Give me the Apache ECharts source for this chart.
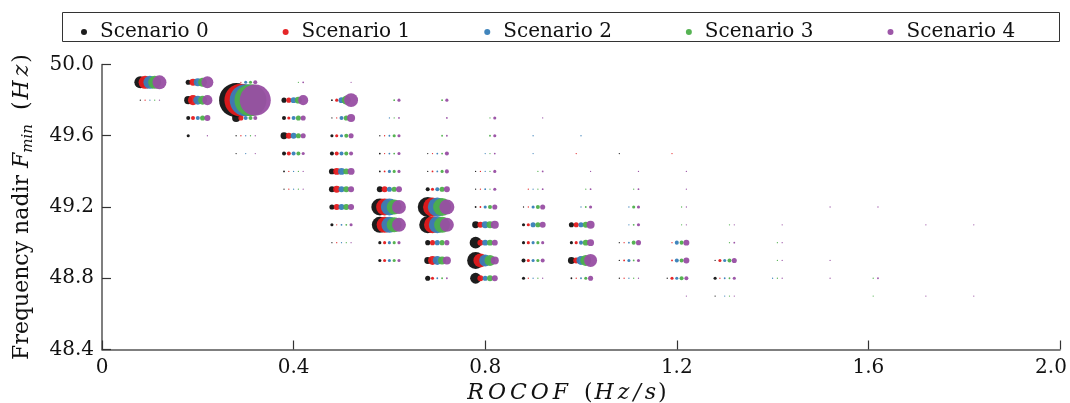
<!DOCTYPE html>
<html>
<head>
<meta charset="utf-8">
<script src="https://cdn.jsdelivr.net/npm/echarts@6/dist/echarts.min.js"></script>
<style>
  html, body { margin: 0; padding: 0; background: #fff; }
  #chart { width: 1070px; height: 403px; }
</style>
</head>
<body>
<div id="chart"></div>
<script>
// Scenario names (legend order = drawing order, last on top)
const scenarioNames = ["Scenario 0", "Scenario 1", "Scenario 2", "Scenario 3", "Scenario 4"];
const scenarioColors = ["#111111", "#e41a1c", "#377eb8", "#4daf4a", "#984ea3"];

// each row: [ROCOF (Hz/s), nadir (Hz), count scenario 0..4]
const cells = [
  [0.1, 49.9, 44, 52, 52, 52, 60],
  [0.2, 49.9, 8, 15, 20, 25, 44],
  [0.3, 49.9, 0, 0.5, 3, 3, 5],
  [0.4, 49.9, 0, 0, 0, 0.5, 1],
  [0.5, 49.9, 0, 0, 0, 0, 0.5],
  [0.1, 49.8, 0.5, 0.5, 0.5, 0.5, 0.5],
  [0.2, 49.8, 20, 31, 25, 25, 31],
  [0.3, 49.8, 357, 336, 316, 316, 297],
  [0.4, 49.8, 8, 8, 11, 15, 31],
  [0.5, 49.8, 1, 3, 11, 25, 60],
  [0.6, 49.8, 0, 0, 0, 1, 3],
  [0.7, 49.8, 0, 0, 0, 1, 3],
  [0.2, 49.7, 5, 5, 5, 8, 11],
  [0.3, 49.7, 20, 8, 5, 5, 5],
  [0.4, 49.7, 5, 3, 5, 8, 8],
  [0.5, 49.7, 0.5, 0.5, 5, 8, 20],
  [0.6, 49.7, 0, 0, 0.5, 0.5, 1],
  [0.7, 49.7, 0, 0, 0, 0, 1],
  [0.8, 49.7, 0, 0, 0, 0.5, 3],
  [0.9, 49.7, 0, 0, 0, 0, 0.5],
  [0.2, 49.6, 3, 0, 0, 0, 0.5],
  [0.3, 49.6, 0.5, 0.5, 0.5, 0.5, 0.5],
  [0.4, 49.6, 15, 11, 11, 8, 8],
  [0.5, 49.6, 3, 3, 3, 5, 8],
  [0.6, 49.6, 0.5, 0.5, 1, 3, 3],
  [0.7, 49.6, 0, 0, 0, 1, 1],
  [0.8, 49.6, 0, 0, 0, 1, 3],
  [0.9, 49.6, 0, 0, 0.5, 0, 0],
  [1.0, 49.6, 0, 0, 0.5, 0, 0],
  [0.3, 49.5, 0.5, 0, 0.5, 0, 0.5],
  [0.4, 49.5, 5, 5, 5, 5, 3],
  [0.5, 49.5, 5, 5, 5, 5, 5],
  [0.6, 49.5, 1, 0.5, 1, 1, 3],
  [0.7, 49.5, 0.5, 0.5, 1, 1, 5],
  [0.8, 49.5, 0, 0, 0.5, 0.5, 1],
  [0.9, 49.5, 0, 0, 0.5, 0, 0],
  [1.0, 49.5, 0, 0.5, 0, 0, 0],
  [1.1, 49.5, 0.5, 0, 0, 0, 0],
  [1.2, 49.5, 0, 0.5, 0, 0, 0],
  [0.4, 49.4, 1, 0.5, 0.5, 0.5, 0.5],
  [0.5, 49.4, 11, 15, 15, 11, 15],
  [0.6, 49.4, 1, 1, 3, 3, 3],
  [0.7, 49.4, 0.5, 1, 1, 3, 5],
  [0.8, 49.4, 0.5, 0.5, 0.5, 0.5, 3],
  [0.9, 49.4, 0, 0, 0, 0.5, 1],
  [1.0, 49.4, 0, 0, 0, 0, 0.5],
  [1.1, 49.4, 0, 0, 0, 0, 0.5],
  [1.2, 49.4, 0, 0, 0, 0, 0.5],
  [0.4, 49.3, 0.5, 0.5, 0.5, 0.5, 0.5],
  [0.5, 49.3, 11, 15, 11, 11, 11],
  [0.6, 49.3, 11, 11, 8, 8, 11],
  [0.7, 49.3, 5, 3, 5, 8, 11],
  [0.8, 49.3, 0.5, 0.5, 1, 0.5, 3],
  [0.9, 49.3, 0, 0.5, 0.5, 0.5, 1],
  [1.0, 49.3, 0, 0, 0, 0.5, 1],
  [1.1, 49.3, 0, 0, 0, 0.5, 1],
  [1.2, 49.3, 0, 0, 0, 0, 0.5],
  [0.5, 49.2, 8, 11, 11, 11, 11],
  [0.6, 49.2, 89, 89, 89, 69, 60],
  [0.7, 49.2, 123, 111, 111, 100, 69],
  [0.8, 49.2, 1, 1, 3, 5, 8],
  [0.9, 49.2, 0.5, 0.5, 3, 5, 8],
  [1.0, 49.2, 0, 0, 0.5, 1, 3],
  [1.1, 49.2, 0, 0, 0.5, 3, 3],
  [1.2, 49.2, 0, 0, 0, 0.5, 0.5],
  [1.5, 49.2, 0, 0, 0, 0, 0.5],
  [1.6, 49.2, 0, 0, 0, 0, 0.5],
  [0.5, 49.1, 3, 0.5, 1, 1, 3],
  [0.6, 49.1, 79, 79, 79, 69, 60],
  [0.7, 49.1, 89, 89, 89, 79, 60],
  [0.8, 49.1, 15, 11, 15, 15, 20],
  [0.9, 49.1, 3, 3, 8, 8, 11],
  [1.0, 49.1, 8, 8, 8, 11, 20],
  [1.1, 49.1, 0, 0, 0.5, 1, 3],
  [1.2, 49.1, 0, 0, 0, 0.5, 0.5],
  [1.3, 49.1, 0, 0, 0, 0.5, 0.5],
  [1.4, 49.1, 0, 0, 0, 0, 0.5],
  [1.7, 49.1, 0, 0, 0, 0, 0.5],
  [1.8, 49.1, 0, 0, 0, 0, 0.5],
  [0.5, 49.0, 0.5, 0.5, 0.5, 0.5, 0.5],
  [0.6, 49.0, 3, 3, 3, 3, 3],
  [0.7, 49.0, 8, 8, 8, 8, 8],
  [0.8, 49.0, 44, 11, 11, 11, 11],
  [0.9, 49.0, 3, 3, 3, 3, 3],
  [1.0, 49.0, 3, 3, 5, 11, 15],
  [1.1, 49.0, 0.5, 0.5, 1, 5, 8],
  [1.2, 49.0, 0, 0.5, 5, 5, 11],
  [1.3, 49.0, 0, 0, 0, 0.5, 1],
  [1.4, 49.0, 0, 0, 0, 0.5, 0.5],
  [0.6, 48.9, 3, 3, 3, 3, 3],
  [0.7, 48.9, 15, 25, 25, 20, 20],
  [0.8, 48.9, 89, 60, 44, 37, 20],
  [0.9, 48.9, 5, 3, 3, 3, 5],
  [1.0, 48.9, 15, 11, 25, 37, 52],
  [1.1, 48.9, 0.5, 1, 3, 1, 3],
  [1.2, 48.9, 0, 1, 5, 5, 11],
  [1.3, 48.9, 0.5, 3, 3, 5, 8],
  [1.4, 48.9, 0, 0, 0, 0.5, 0.5],
  [1.5, 48.9, 0, 0, 0, 0, 0.5],
  [0.7, 48.8, 8, 3, 1, 1, 1],
  [0.8, 48.8, 37, 11, 8, 11, 11],
  [0.9, 48.8, 3, 0.5, 0.5, 0.5, 0.5],
  [1.0, 48.8, 1, 0.5, 1, 3, 8],
  [1.1, 48.8, 0.5, 0.5, 0.5, 0.5, 0.5],
  [1.2, 48.8, 0.5, 3, 3, 5, 5],
  [1.3, 48.8, 3, 0.5, 1, 1, 3],
  [1.4, 48.8, 0, 0, 0.5, 0.5, 0.5],
  [1.5, 48.8, 0, 0, 0, 0, 0.5],
  [1.6, 48.8, 0, 0, 0, 0.5, 1],
  [1.2, 48.7, 0, 0, 0, 0, 0.5],
  [1.3, 48.7, 0.5, 0, 0.5, 0.5, 0.5],
  [1.6, 48.7, 0, 0, 0, 0.5, 0],
  [1.7, 48.7, 0, 0, 0, 0, 0.5],
  [1.8, 48.7, 0, 0, 0, 0, 0.5],
];

const FONT = "DejaVu Serif";
const chart = echarts.init(document.getElementById("chart"), null, { renderer: "canvas" });

// scenarios are dodged a little around each ROCOF value
const dodge = 0.01;

const series = scenarioNames.map(function (name, i) {
  const data = [];
  cells.forEach(function (c) {
    const n = c[2 + i];
    if (n > 0) data.push([c[0] + (i - 2) * dodge, c[1], n]);
  });
  return {
    name: name,
    type: "scatter",
    data: data,
    symbol: "circle",
    symbolSize: function (v) { return 1.8 * Math.sqrt(v[2]); },
    itemStyle: { color: scenarioColors[i], opacity: 0.95 },
    emphasis: { disabled: true },
    z: 2 + i,
  };
});

// math-style text pieces (italic letters, upright brackets)
const mathRich = {
  t: { fontFamily: FONT, fontSize: 22, color: "#111", lineHeight: 28 },
  i: { fontFamily: FONT, fontSize: 22, fontStyle: "italic", color: "#111", lineHeight: 28 },
  m: { fontFamily: FONT, fontSize: 22, fontStyle: "italic", color: "#111", lineHeight: 28, padding: [0, 2, 0, 2] },
  e: { fontFamily: FONT, fontSize: 22, color: "#111", lineHeight: 28, padding: [0, 30, 0, 0] },
  s: { fontFamily: FONT, fontSize: 15, fontStyle: "italic", color: "#111", lineHeight: 15, verticalAlign: "bottom" },
};

const option = {
  animation: false,
  backgroundColor: "#ffffff",
  grid: { left: 102, right: 10, top: 64.5, bottom: 53.5, outerBoundsMode: "none" },
  graphic: [
    {
      type: "rect",
      shape: { x: 62.5, y: 12.5, width: 997, height: 29 },
      style: { fill: "none", stroke: "#333", lineWidth: 1 },
      z: 10,
    },
  ],
  legend: {
    data: scenarioNames,
    left: 76,
    top: 17,
    icon: "circle",
    itemWidth: 6,
    itemHeight: 6,
    itemGap: 74,
    textStyle: { fontFamily: FONT, fontSize: 20, color: "#111", padding: [0, 0, 0, 8] },
  },
  xAxis: {
    type: "value",
    min: 0,
    max: 2,
    interval: 0.4,
    name: "{m|R}{m|O}{m|C}{m|O}{m|F}{t|  (}{m|H}{m|z}{m|/}{m|s}{e|)}",
    nameLocation: "middle",
    nameGap: 27,
    nameTextStyle: { rich: mathRich },
    axisLine: { lineStyle: { color: "#555", width: 1.5 } },
    axisTick: { inside: true, length: 9, lineStyle: { color: "#333", width: 1.2 } },
    splitLine: { show: false },
    axisLabel: {
      fontFamily: FONT,
      fontSize: 20,
      color: "#111",
      margin: 8,
      formatter: function (v) {
        if (v === 0) return "0";
        // keep the last label inside the canvas
        if (v === 2) return "{r|2.0}";
        return v.toFixed(1);
      },
      rich: { r: { fontFamily: FONT, fontSize: 20, color: "#111", padding: [0, 18, 0, 0] } },
    },
  },
  yAxis: {
    type: "value",
    min: 48.4,
    max: 50.0,
    interval: 0.4,
    name: "{t|Frequency nadir }{i|F}{s|min}{t|  (}{m|H}{m|z}{t|)}",
    nameLocation: "middle",
    nameGap: 66,
    nameRotate: 90,
    nameTextStyle: { rich: mathRich },
    axisLine: { show: true, lineStyle: { color: "#555", width: 1.5 } },
    axisTick: { show: true, inside: true, length: 9, lineStyle: { color: "#333", width: 1.2 } },
    splitLine: { show: false },
    axisLabel: {
      fontFamily: FONT,
      fontSize: 20,
      color: "#111",
      margin: 8,
      formatter: function (v) { return v.toFixed(1); },
    },
  },
  series: series,
};

chart.setOption(option);
</script>
</body>
</html>
